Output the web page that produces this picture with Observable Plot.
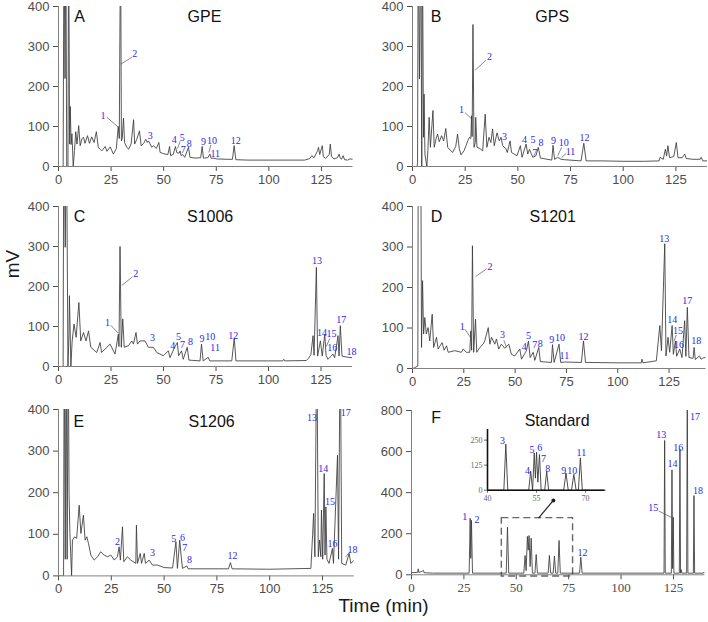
<!DOCTYPE html>
<html><head><meta charset="utf-8">
<script src="https://cdn.jsdelivr.net/npm/d3@7"></script>
<script src="https://cdn.jsdelivr.net/npm/@observablehq/plot@0.6"></script>
<style>
body{margin:0;background:#fff;}
#wrap{position:relative;width:708px;height:622px;overflow:hidden;background:#fff;font-family:"Liberation Sans",Arial,sans-serif;}
#wrap svg{position:absolute;overflow:visible;}
.ax{position:absolute;font-size:19px;color:#1a1a1a;white-space:nowrap;line-height:1;}
</style></head><body><div id="wrap"></div>
<script>
// ---------- chromatogram traces: [time (min), signal (mV)] ----------
const traceGPE = [[0,0],[2.2,0],[2.6,600],[3.1,220],[3.5,600],[3.9,0],[4.5,0],[4.8,600],[5.3,56],[5.6,150],[6.0,55],[6.4,82],[7.0,0],[7.6,40],[8.2,87],[8.8,56],[9.6,102],[10.3,52],[11.2,70],[11.9,73],[12.6,58],[13.8,77],[14.7,58],[15.8,74],[16.9,60],[18.0,87],[18.9,48],[20.0,42],[20.6,39],[22.2,50],[23.0,38],[24.6,49],[26.1,31],[27.5,45],[28.4,100],[28.9,70],[29.5,600],[29.9,64],[30.3,70],[30.9,121],[31.4,60],[32.5,48],[33.3,43],[34.5,56],[35.7,117],[36.2,56],[37.2,68],[38.5,89],[39.3,52],[40.5,58],[41.5,68],[42.2,60],[42.8,64],[44.3,48],[45.2,52],[46.5,45],[47.7,60],[48.3,35],[49.5,33],[50.7,31],[52.0,30],[52.8,50],[53.3,27],[54.5,30],[55.6,50],[56.2,35],[57.3,33],[57.8,39],[58.3,27],[59.0,30],[60.0,23],[61.8,48],[62.5,23],[65,21],[67.6,22],[68.3,50],[68.9,21],[71.0,22],[72.0,31],[72.6,20],[73.7,21],[75,19],[80,18],[82.7,18],[83.5,52],[84.3,17],[90,16],[100,16],[110,16],[117,16],[119.5,20],[120.4,27],[121.5,22],[123.2,40],[123.6,48],[124.2,30],[125.0,45],[125.4,52],[125.9,25],[127,20],[128.7,30],[129.2,56],[129.8,25],[131,19],[132.6,22],[133.4,31],[133.9,22],[134.5,18],[135.3,27],[136,17],[137.5,16],[138.5,19],[140,18]];
const traceGPS = [[0,0],[2.2,0],[2.4,10],[2.7,600],[3.3,219],[3.9,600],[4.4,0],[4.7,600],[5.2,73],[5.5,181],[5.9,31],[6.8,0],[7.3,40],[7.9,123],[8.5,48],[9.7,140],[10.3,48],[11.2,70],[11.9,81],[12.7,62],[13.8,77],[14.8,64],[15.8,95],[16.7,48],[19,35],[20.5,50],[21.4,81],[22.2,45],[23.0,29],[24.5,40],[25.4,52],[26.3,65],[27.0,73],[27.7,70],[28.0,127],[28.3,75],[28.7,355],[29.2,48],[29.8,60],[30.0,123],[30.6,48],[32,45],[33.3,39],[34.5,131],[35.3,48],[36.3,73],[37.2,60],[38.0,94],[38.8,52],[40.1,84],[41.2,64],[42.0,73],[42.8,52],[44.3,45],[45.0,35],[46.3,64],[47.0,35],[49.6,27],[51.2,52],[52.0,23],[53.9,56],[54.7,31],[55.5,43],[57.1,23],[58.6,27],[59.7,48],[60.7,21],[62,20],[66.1,16],[66.7,53],[67.4,18],[68.9,23],[70.5,18],[72,17],[80.0,14],[81.3,58],[82.4,14],[90,14],[100,13],[110,13],[117,14],[117.5,23],[119,18],[120,43],[120.6,26],[121.2,52],[122,22],[124,25],[125.2,60],[126,22],[128,22],[129.2,31],[129.9,20],[133,18],[136.5,18],[137,23],[137.8,14],[140,14]];
const traceS1006 = [[0,0],[2.2,0],[2.5,600],[3.2,298],[3.8,600],[4.5,0],[5.0,81],[5.2,177],[5.9,0],[6.5,64],[7.4,106],[8.4,73],[9.7,160],[10.6,64],[11.9,85],[13.1,64],[14.3,89],[15.4,48],[18.2,35],[19.8,60],[20.5,35],[23.0,48],[24.6,56],[26.9,31],[28.5,81],[28.8,50],[29.3,300],[29.9,48],[30.6,119],[31.3,48],[33.3,52],[34.9,64],[35.7,56],[36.9,85],[37.6,56],[38.8,64],[41.2,64],[42.8,48],[45.2,48],[46.8,35],[49.9,27],[52.3,39],[53.1,22],[55.3,48],[56.6,60],[57.2,27],[58.6,39],[59.4,18],[61.3,48],[62.1,16],[67.4,14],[68.1,56],[68.9,14],[71.3,23],[72,14],[82.5,14],[83.7,71],[84.5,14],[100,14],[106.8,14],[107.3,18],[107.8,14],[118,15],[119,20],[120.2,30],[121.2,77],[121.7,28],[122.8,248],[123.4,26],[124.7,64],[125.6,26],[126.8,81],[127.4,28],[128.3,18],[130.7,31],[131.5,22],[133.1,77],[133.6,26],[134.2,102],[135.0,26],[137.9,23],[140,22]];
const traceS1201 = [[0,0],[1,2],[2.6,6],[2.8,600],[4.0,600],[4.4,52],[4.9,217],[5.4,85],[6.0,126],[6.7,85],[7.6,101],[8.4,68],[9.6,134],[10.3,52],[11.7,77],[12.5,48],[14.4,64],[15.4,45],[16.6,56],[17.4,40],[20.6,44],[23.8,40],[24.7,48],[26.3,40],[27.9,40],[28.4,93],[28.8,45],[29.2,303],[29.8,40],[30.7,122],[31.3,40],[32.8,52],[34.4,60],[35.2,68],[36.9,101],[37.7,60],[38.5,77],[40.1,60],[40.9,73],[42.0,48],[43.3,60],[44.9,50],[46.9,60],[48.2,35],[49.8,31],[52.3,48],[53.1,23],[55.5,44],[56.5,68],[57.3,27],[58.8,40],[59.6,20],[61.5,52],[62.3,17],[67.7,15],[68.2,59],[69,15],[71.4,60],[72.2,15],[74,16],[82.3,15],[83.3,68],[84.3,15],[100,14],[111.5,14],[111.8,23],[112.3,14],[118.8,19],[120.5,106],[121.3,44],[122.9,308],[123.5,31],[124.5,77],[125.3,40],[126.5,106],[127.1,35],[128.1,68],[128.7,30],[130.2,48],[131.3,27],[132.6,118],[133.2,30],[133.9,151],[134.7,27],[136.7,25],[137.2,52],[137.8,22],[139.8,31],[140.6,23],[142,27],[143,27]];
const traceS1206 = [[0,0],[2.4,0],[2.7,600],[3.2,40],[3.6,600],[4.1,40],[4.6,600],[5.0,198],[5.4,102],[6.2,0],[6.6,86],[7.6,94],[8.6,90],[9.8,170],[10.6,102],[11.8,146],[12.6,86],[13.4,94],[14.2,78],[15.3,50],[16.9,38],[18.5,46],[20.0,58],[21.6,50],[23.2,46],[24.8,50],[26.4,38],[27.9,46],[28.7,70],[29.3,38],[30.3,118],[30.9,34],[32.6,46],[34.2,38],[36.6,30],[36.9,122],[37.4,30],[38.7,54],[39.3,30],[40.6,54],[41.2,30],[42.9,38],[44.5,26],[46.9,26],[50,20],[54.0,19],[55.6,82],[56.3,18],[57.4,86],[58.1,46],[58.7,18],[60.8,24],[61.4,17],[67,17],[80.5,17],[81.4,32],[82.2,17],[100,16],[119.5,18],[120.3,98],[120.8,150],[121.4,46],[122.3,600],[123.0,46],[123.6,86],[124.2,46],[124.5,158],[125.1,40],[125.8,246],[126.2,50],[126.6,166],[127.1,40],[128.1,30],[129.7,66],[130.2,30],[132.1,290],[132.6,40],[133.4,600],[134.1,30],[136.0,26],[137.6,54],[138.4,30],[140,38]];
const traceStandard = [[0,10],[3.0,12],[3.2,29],[3.5,12],[4.6,15],[5.7,21],[6.0,10],[10,8],[27.5,8],[28.0,275],[28.3,80],[28.6,265],[29.1,8],[45.2,8],[45.8,232],[46.4,8],[53.6,8],[54.2,94],[54.7,20],[55.3,187],[55.7,120],[56.1,191],[56.6,40],[57.1,178],[57.7,8],[58.9,8],[59.5,99],[60.1,8],[65.2,8],[65.8,94],[66.4,8],[67.6,8],[68.2,91],[68.8,8],[69.8,8],[70.4,167],[71.0,8],[80.2,8],[80.8,86],[81.4,8],[120.5,8],[120.8,654],[121.1,8],[124.0,8],[124.3,511],[124.6,30],[124.9,280],[125.2,8],[127.8,8],[128.1,613],[128.4,8],[128.7,25],[129,8],[131.3,8],[131.6,900],[131.9,8],[134.5,8],[134.8,386],[135.1,8],[139.3,8],[139.6,13],[140,8]];
const traceInset = [[40,0],[45.0,0],[45.6,230],[46.2,0],[52.6,0],[53.2,95],[53.8,0],[53.9,40],[54.3,186],[54.65,60],[55.0,190],[55.4,40],[55.9,178],[56.4,0],[57.5,0],[58.1,94],[58.7,0],[63.3,0],[64.0,86],[64.7,0],[65.7,0],[66.4,79],[67.1,0],[67.8,0],[68.4,161],[69.0,0],[76,0]];

// ---------- peak labels: [label, time, signal] ----------
const labelsGPE = [["1",21.1,127],["2",36.3,281],["3",43.6,78],["4",55,66],["5",58.8,73],["7",59.3,41],["8",62.1,58],["9",68.9,61],["10",73,64],["11",74.5,33],["12",84.3,64]];
const labelsGPS = [["1",23.3,141],["2",36.5,275],["3",43.7,75],["4",53.2,66],["5",57.2,66],["7",58,35],["8",61,60],["9",66.9,64],["10",71.8,60],["11",75,36],["12",81.6,73]];
const labelsS1006 = [["1",23.3,110],["2",36.8,231],["3",44.8,73],["4",54.4,53],["5",57.2,75],["7",59.1,54],["8",62.9,62],["9",68.3,70],["10",72.3,74],["11",74.6,48],["12",83.2,78],["13",123.1,265],["14",125.5,85],["15",130,81],["16",130.4,48],["17",134.7,117],["18",139.5,38]];
const labelsS1201 = [["1",24.2,104],["2",37.7,252],["3",43.8,82],["4",54.4,54],["5",56.5,81],["7",59.6,58],["8",62.3,62],["9",67.9,70],["10",71.9,75],["11",74,32],["12",83.3,79],["13",122.6,320],["14",126.5,120],["15",129.4,93],["16",129.9,58],["17",133.9,166],["18",138.3,68]];
const labelsS1206 = [["2",27.9,82],["3",44.5,55],["5",54.6,90],["6",58.7,92],["7",59.8,68],["8",62,39],["12",82.4,48],["13",120,381],["14",125.3,257],["15",128.6,178],["16",129.7,78],["17",136,392],["18",139.2,63]];
const labelsStandard = [["1",25.4,281],["2",31.2,269],["12",81.6,107],["13",119.2,682],["14",124.5,540],["15",115.4,326],["16",127.3,618],["17",135.3,768],["18",136.7,407]];
const labelsInset = [["3",44.6,247],["4",52.2,95],["5",53.6,203],["6",56,211],["7",57.1,158],["8",58.4,107],["9",63.3,95],["10",65.9,99],["11",68.7,186]];

// ---------- leader lines: [t1, v1, t2, v2] ----------
const leadersGPE = [[23.0,123,28.3,99],[34.9,273,29.6,256],[57.8,63,56.6,45],[72.4,54,71.5,35]];
const leadersGPS = [[24.9,135,28.0,119],[34.9,266,29.6,240],[70.8,48,68.9,27],[73.0,33,70.7,22]];
const leadersS1006 = [[24.9,103,28.5,83],[35.2,224,30.2,203],[129.2,70,127.5,50]];
const leadersS1201 = [[25.5,97,28.4,76],[36.1,246,30.7,227],[44.5,70,45.8,52],[128.5,83,127.5,68]];
const leadersS1206 = [[136,46,138.1,58]];
const leadersStandard = [[118.0,310,124.6,277]];

// ---------- panel letters and names ----------
const panelLetters = ["A","B","C","D","E","F"];
const panelNames = ["GPE","GPS","S1006","S1201","S1206","Standard"];
const xTicks = [0,25,50,75,100,125];
const yTicks400 = [0,100,200,300,400];
const yTicks800 = [0,200,400,600,800];
const insetXTicks = [40,55,70];
const insetYTicks = [0,125,250];

const wrap = document.getElementById("wrap");
const BLUE = "#2a2ae6";
const LABEL_SIZE = 10;

function place(svg, left, top){
  svg.style.left = left + "px";
  svg.style.top = top + "px";
  wrap.appendChild(svg);
}

function panel(c){
  const mL=42, mR=8, mT=4, mB=28;
  const pts = c.trace.map(([t,v])=>({t,v}));
  const marks = [
    Plot.ruleY([0],{stroke:"#808080",strokeWidth:1}),
    Plot.ruleX([0],{stroke:"#808080",strokeWidth:1}),
    ...(c.extra||[]),
    Plot.line(pts,{x:"t",y:"v",stroke:"#3a3a3a",strokeWidth:0.85,clip:true}),
    Plot.link(c.leaders,{x1:d=>d[0],y1:d=>d[1],x2:d=>d[2],y2:d=>d[3],stroke:"#555",strokeWidth:0.7}),
    Plot.text(c.labels,{x:d=>d[1],y:d=>d[2],text:d=>d[0],fill:BLUE,fontFamily:"Liberation Serif",fontSize:LABEL_SIZE,lineAnchor:"middle"}),
    Plot.text([{s:c.letter,t:c.letterT}],{x:"t",text:"s",frameAnchor:"top",dy:c.letterDy,lineAnchor:"middle",fontSize:16,fill:"#111",fontFamily:"Liberation Sans"}),
    Plot.text([{s:c.name,t:c.nameT}],{x:"t",text:"s",frameAnchor:"top",dy:c.nameDy,lineAnchor:"middle",fontSize:16,fill:"#111",fontFamily:"Liberation Sans"})
  ];
  const svg = Plot.plot({
    width: mL + c.w + mR, height: mT + c.h + mB,
    marginLeft: mL, marginRight: mR, marginTop: mT, marginBottom: mB,
    x:{domain:c.xDomain, ticks:xTicks, tickSize:5, tickPadding:3, label:null},
    y:{domain:c.yDomain, ticks:c.yTicks, tickSize:5, tickPadding:4, label:null},
    style:{background:"none", overflow:"visible", fontFamily:"Liberation Sans, Arial, sans-serif", fontSize:"13px", color:"#4d4d4d"},
    marks
  });
  if (c.serifX) svg.querySelectorAll('[aria-label^="x-axis"]').forEach(g=>{g.style.fontFamily="Liberation Serif"; g.querySelectorAll("text").forEach(t=>t.style.fontFamily="Liberation Serif");});
  place(svg, c.x0 - mL, c.y0 - mT);
}

panel({trace:traceGPE, labels:labelsGPE, leaders:leadersGPE, letter:panelLetters[0], name:panelNames[0],
  letterT:10, nameT:69.4, letterDy:10, nameDy:10, x0:58.3, y0:6, w:294.5, h:160, xDomain:[0,140], yDomain:[0,400], yTicks:yTicks400});
panel({trace:traceGPS, labels:labelsGPS, leaders:leadersGPS, letter:panelLetters[1], name:panelNames[1],
  letterT:11.2, nameT:66.3, letterDy:10, nameDy:10, x0:412.3, y0:6, w:295, h:160, xDomain:[0,140], yDomain:[0,400], yTicks:yTicks400});
panel({trace:traceS1006, labels:labelsS1006, leaders:leadersS1006, letter:panelLetters[2], name:panelNames[2],
  letterT:10, nameT:72.2, letterDy:10, nameDy:10, x0:58.3, y0:206, w:294, h:160, xDomain:[0,140], yDomain:[0,400], yTicks:yTicks400});
panel({trace:traceS1201, labels:labelsS1201, leaders:leadersS1201, letter:panelLetters[3], name:panelNames[3],
  letterT:11.7, nameT:68.3, letterDy:10, nameDy:10, x0:412, y0:206, w:293.5, h:162, xDomain:[0,143], yDomain:[0,400], yTicks:yTicks400});
panel({trace:traceS1206, labels:labelsS1206, leaders:leadersS1206, letter:panelLetters[4], name:panelNames[4],
  letterT:9.6, nameT:72.5, letterDy:12.5, nameDy:12.5, x0:57.7, y0:409.3, w:295.7, h:166.4, xDomain:[0,140], yDomain:[0,400], yTicks:yTicks400});
panel({trace:traceStandard, labels:labelsStandard, leaders:leadersStandard, letter:panelLetters[5], name:panelNames[5],
  letterT:11.8, nameT:69.5, letterDy:7, nameDy:10, x0:411.3, y0:410, w:293.4, h:164.3, xDomain:[0,140], yDomain:[0,800], yTicks:yTicks800, serifX:true,
  extra:[
    Plot.rect([{x1:43.1,x2:77.1,y1:-8,y2:276}],{x1:"x1",x2:"x2",y1:"y1",y2:"y2",fill:"none",stroke:"#666",strokeWidth:1.4,strokeDasharray:"7,4"}),
    Plot.link([{x1:60.6,y1:276,x2:67.7,y2:362}],{x1:"x1",y1:"y1",x2:"x2",y2:"y2",stroke:"#222",strokeWidth:1.2}),
    Plot.dot([{x:67.7,y:362}],{x:"x",y:"y",r:2,fill:"#222"})
  ]});

// inset of panel F
(function(){
  const mL=22, mR=4, mT=4, mB=14;
  const w=117.4, h=60.7;
  const pts = traceInset.map(([t,v])=>({t,v}));
  const svg = Plot.plot({
    width:mL+w+mR, height:mT+h+mB, marginLeft:mL, marginRight:mR, marginTop:mT, marginBottom:mB,
    x:{domain:[40,75.9], ticks:insetXTicks, tickSize:3, tickPadding:2, label:null},
    y:{domain:[0,303], ticks:insetYTicks, tickSize:3, tickPadding:2, label:null},
    style:{background:"none", overflow:"visible", fontFamily:"Liberation Serif", fontSize:"8px", color:"#666"},
    marks:[
      Plot.line(pts,{x:"t",y:"v",stroke:"#3a3a3a",strokeWidth:0.9}),
      Plot.ruleY([0],{stroke:"#111",strokeWidth:1.6}),
      Plot.ruleX([40],{stroke:"#111",strokeWidth:1.6}),
      Plot.text(labelsInset,{x:d=>d[1],y:d=>d[2],text:d=>d[0],fill:BLUE,fontFamily:"Liberation Serif",fontSize:LABEL_SIZE,lineAnchor:"middle"})
    ]
  });
  place(svg, 487.3 - mL, 429.3 - mT);
})();

// axis titles
const yTitle = document.createElement("div");
yTitle.className = "ax"; yTitle.textContent = "mV";
yTitle.style.left = "12px"; yTitle.style.top = "264px";
yTitle.style.transform = "translate(-50%,-50%) rotate(-90deg)";
wrap.appendChild(yTitle);
const xTitle = document.createElement("div");
xTitle.className = "ax"; xTitle.textContent = "Time (min)";
xTitle.style.left = "383.5px"; xTitle.style.top = "605px";
xTitle.style.transform = "translate(-50%,-50%)";
wrap.appendChild(xTitle);
</script>
</body></html>
